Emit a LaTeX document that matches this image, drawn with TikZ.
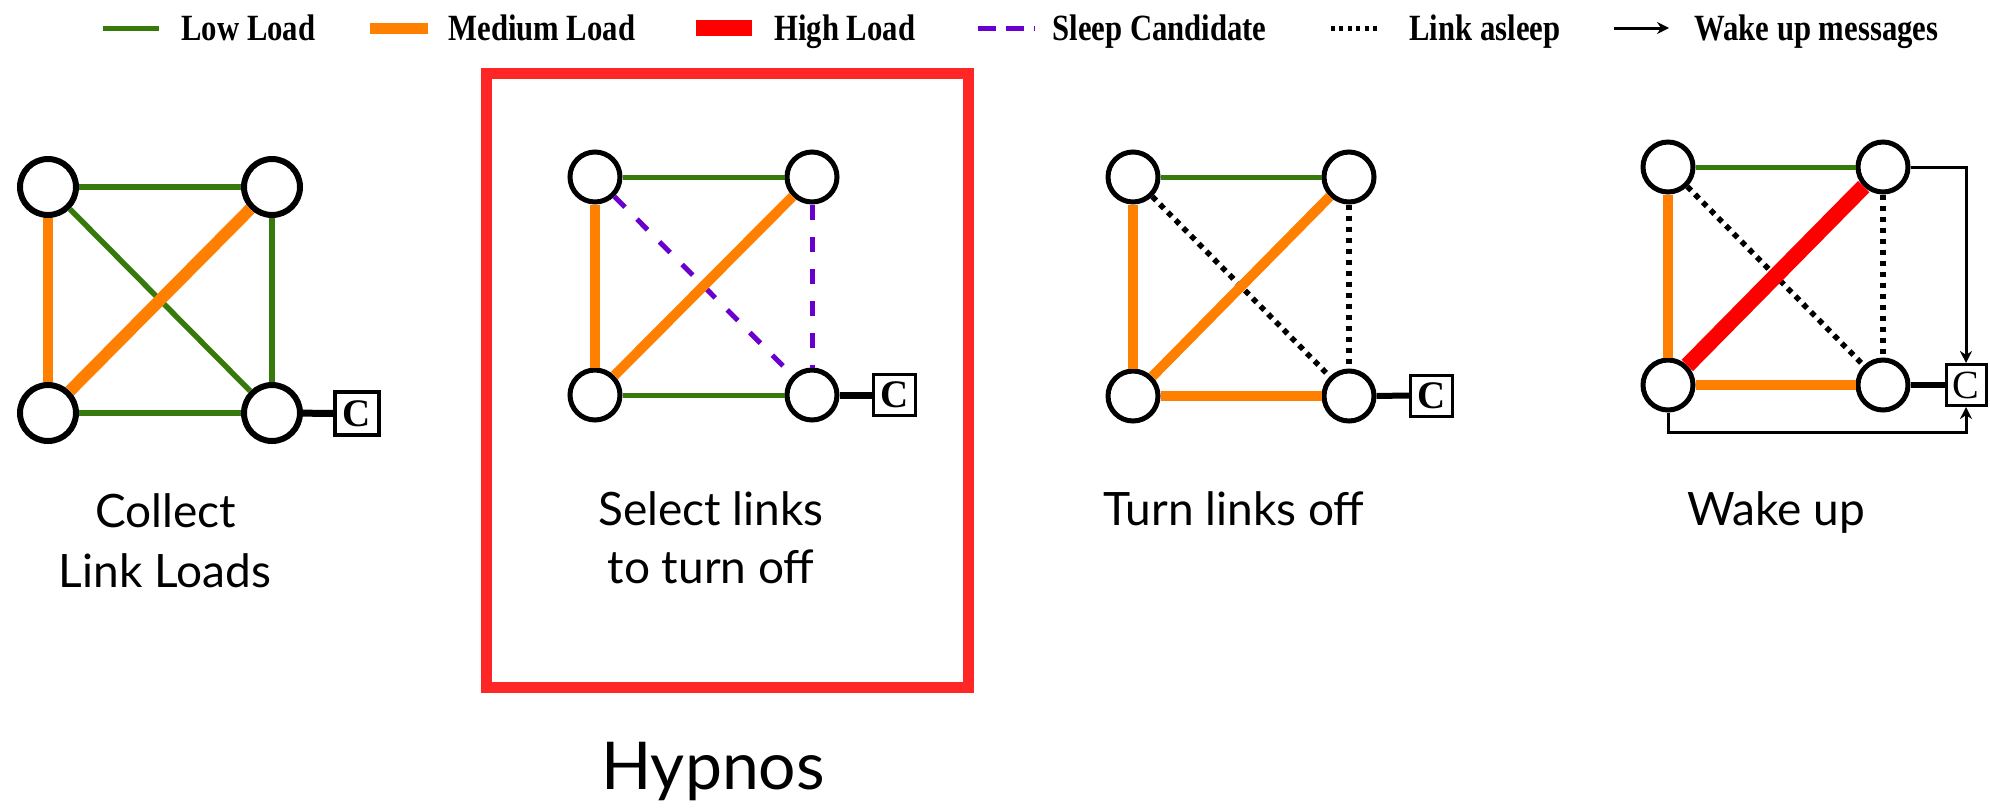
\documentclass[tikz,border=0pt]{standalone}
\usepackage{fontspec}
\setmainfont{Lato}
\newfontfamily\legfont[FakeStretch=0.83]{Liberation Serif}
\newfontfamily\cfont{Liberation Serif}
\usetikzlibrary{arrows.meta}
\definecolor{lowgreen}{HTML}{367A0C}
\definecolor{medorange}{HTML}{FF8000}
\definecolor{highred}{HTML}{FF0000}
\definecolor{sleeppurple}{HTML}{6A00D0}
\definecolor{boxred}{HTML}{FF2626}
\begin{document}
\begin{tikzpicture}[x=0.5pt,y=-0.5pt,
  nd/.style={circle,draw=black,fill=white,line width=2.5pt,minimum size=25pt,inner sep=0pt},
  ndbig/.style={nd,line width=3pt,minimum size=28pt},
  cbox/.style={draw=black,fill=white,line width=1.5pt,minimum width=21pt,minimum height=20.5pt,inner sep=0pt,font=\cfont\bfseries\fontsize{19.5}{19.5}\selectfont},
  low/.style={draw=lowgreen,line width=2.75pt},
  med/.style={draw=medorange,line width=5pt},
  high/.style={draw=highred,line width=8pt},
  sleepc/.style={draw=sleeppurple,line width=2.5pt,dash pattern=on 7.5pt off 8.5pt},
  asleep/.style={draw=black,line width=2.75pt,dash pattern=on 2.75pt off 2.75pt},
  ctl/.style={draw=black,line width=3.5pt},
  wake/.style={draw=black,line width=1.5pt,-{Stealth[length=6pt,width=6pt]}},
  leg/.style={font=\legfont\bfseries\fontsize{18.5}{18.5}\selectfont,anchor=base west,inner sep=0pt},
  lbl/.style={font=\fontsize{23}{23}\selectfont,anchor=base,inner sep=0pt},
]
\useasboundingbox[fill=white] (0,0) rectangle (1990,810);

% ---------- legend ----------
\draw[low,line width=2.5pt] (103,28) -- (159,28);
\node[leg] (lglow) at (181,40) {Low Load};
\draw[med,line width=5.5pt] (370,28) -- (428,28);
\node[leg] (lgmed) at (448,40) {Medium Load};
\draw[high] (696,28) -- (752,28);
\node[leg] (lghigh) at (774,40) {High Load};
\draw[sleeppurple,line width=2.5pt,dash pattern=on 9pt off 5pt] (978,28) -- (1035,28);
\node[leg] (lgsleep) at (1052,40) {Sleep Candidate};
\draw[black,line width=2.5pt,dash pattern=on 2pt off 2.2pt] (1331,28) -- (1379,28);
\node[leg] (lgasleep) at (1409,40) {Link asleep};
\draw[wake] (1614,28) -- (1669,28);
\node[leg] (lgwake) at (1694,40) {Wake up messages};

% ---------- graph 1 ----------
\node[ndbig] (g1tl) at (48,187) {};
\node[ndbig] (g1tr) at (272,187) {};
\node[ndbig] (g1bl) at (48,413) {};
\node[ndbig] (g1br) at (272,413) {};
\node[cbox,line width=2pt,minimum width=22pt,minimum height=21.5pt] (g1c) at (357,413.5) {C};
\draw[low,line width=3pt] (g1tl) -- (g1tr);
\draw[med] (g1tl) -- (g1bl);
\draw[low] (g1tl) -- (g1br);
\draw[med,line width=6pt] (g1tr) -- (g1bl);
\draw[low] (g1tr) -- (g1br);
\draw[low] (g1bl) -- (g1br);
\draw[ctl] (g1br) -- (g1c);
\node[lbl] (t1a) at (166,527) {Collect};
\node[lbl] (t1b) at (165,587) {Link Loads};

% ---------- graph 2 (Hypnos) ----------
\node[draw=boxred,line width=5.5pt,minimum width=241pt,minimum height=307pt,inner sep=0pt] (hyp) at (727.5,380.5) {};
\node[nd] (g2tl) at (595,177) {};
\node[nd] (g2tr) at (812,177) {};
\node[nd] (g2bl) at (595,395) {};
\node[nd] (g2br) at (812,395) {};
\node[cbox] (g2c) at (894.5,395) {C};
\draw[low,line width=2.5pt] (g2tl) -- (g2tr);
\draw[med] (g2tl) -- (g2bl);
\draw[sleepc] (g2tl) -- (g2br);
\draw[med] (g2tr) -- (g2bl);
\draw[sleepc] (g2tr) -- (g2br);
\draw[low,line width=2.5pt] (g2bl) -- (g2br);
\draw[ctl] (g2br) -- (g2c);
\node[lbl] (t2a) at (711,525) {Select links};
\node[lbl] (t2b) at (711,583) {to turn off};
\node[lbl,font=\fontsize{33}{33}\selectfont] (thyp) at (713,789) {Hypnos};

% ---------- graph 3 ----------
\node[nd] (g3tl) at (1133,177) {};
\node[nd] (g3tr) at (1349,177) {};
\node[nd] (g3bl) at (1133,396) {};
\node[nd] (g3br) at (1349,396) {};
\node[cbox] (g3c) at (1431.5,395.5) {C};
\draw[low,line width=2.5pt] (g3tl) -- (g3tr);
\draw[med] (g3tl) -- (g3bl);
\draw[asleep] (g3tl) -- (g3br);
\draw[med] (g3tr) -- (g3bl);
\draw[asleep] (g3tr) -- (g3br);
\draw[med] (g3bl) -- (g3br);
\draw[ctl,line width=3pt] (g3br) -- (g3c);
\node[lbl] (t3) at (1234,525) {Turn links off};

% ---------- graph 4 ----------
\node[nd] (g4tl) at (1668,167) {};
\node[nd] (g4tr) at (1883,167) {};
\node[nd] (g4bl) at (1668,385) {};
\node[nd] (g4br) at (1883,385) {};
\node[cbox,font=\cfont\fontsize{20}{20}\selectfont,minimum width=20pt,minimum height=20.5pt] (g4c) at (1966,385) {C};
\coordinate (g4low) at (1966,432);
\draw[low,line width=2.5pt] (g4tl) -- (g4tr);
\draw[med] (g4tl) -- (g4bl);
\draw[asleep] (g4tl) -- (g4br);
\draw[high] (g4tr) -- (g4bl);
\draw[asleep] (g4tr) -- (g4br);
\draw[med] (g4bl) -- (g4br);
\draw[ctl,line width=3pt] (g4br) -- (g4c);
\draw[wake] (g4tr.east) -- (g4tr.east -| g4c.north) -- (g4c.north);
\draw[wake] (g4bl.south) |- (g4low) -- (g4c.south);
\node[lbl] (t4) at (1776,525) {Wake up};
\end{tikzpicture}
\end{document}
